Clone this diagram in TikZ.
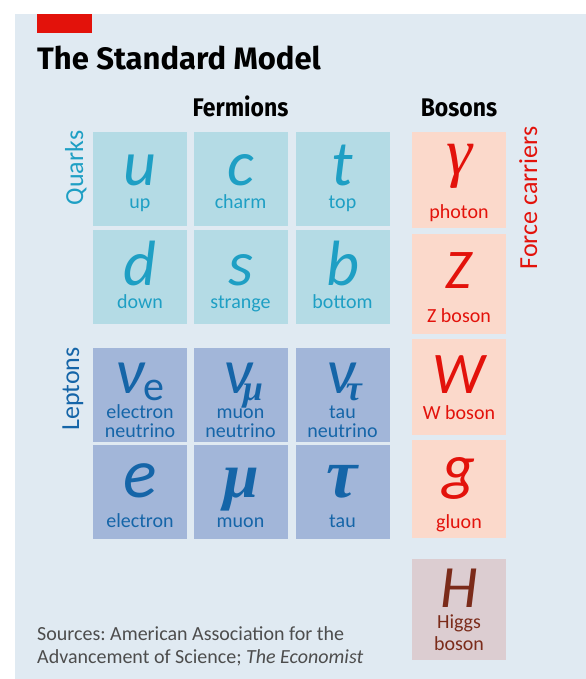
\documentclass[tikz,border=0pt]{standalone}
\usepackage{fontspec}
\setmainfont{Carlito}
\newfontfamily\carl{Carlito}
\newfontfamily\firaf{Fira Sans}
\newfontfamily\serf{Liberation Serif}
\definecolor{bgc}{HTML}{E0EAF2}
\definecolor{ecored}{HTML}{E3120B}
\definecolor{qfill}{HTML}{B4DBE5}
\definecolor{qtext}{HTML}{1E9FC4}
\definecolor{lfill}{HTML}{A2B6D9}
\definecolor{ltext}{HTML}{1565A8}
\definecolor{bfill}{HTML}{FBD9CB}
\definecolor{hfill}{HTML}{DCCDD1}
\definecolor{htext}{HTML}{7B2B1A}
\definecolor{srcgray}{HTML}{4D4D4D}
\newcommand{\fsz}[1]{\fontsize{#1bp}{#1bp}\selectfont}
\newcommand{\narrow}[1]{\scalebox{0.9}[1]{#1}}
\frenchspacing
\tikzset{
  tile/.style={draw=none, inner sep=0pt, minimum width=94bp},
  qtile/.style={tile, fill=qfill, minimum height=94bp},
  ltile/.style={tile, fill=lfill, minimum height=94bp},
  btile/.style={tile, fill=bfill},
  htile/.style={tile, fill=hfill},
  big/.style={anchor=base, inner sep=0pt, font=\carl\itshape\fsz{64}},
  bigser/.style={anchor=base, inner sep=0pt, font=\serf\bfseries\itshape\fsz{64}},
  lab/.style={anchor=base, inner sep=0pt, font=\carl\fsz{20}},
  side/.style={anchor=base, inner sep=0pt, rotate=90, font=\carl\fsz{26}},
  head/.style={anchor=base, inner sep=0pt, font=\firaf\bfseries\fsz{25.5}},
}
\begin{document}
\begin{tikzpicture}[x=1bp,y=-1bp]
\useasboundingbox (0,0) rectangle (586,679);
\fill[bgc] (15,14) rectangle (586,679);
\fill[ecored] (37,14) rectangle (92,33);
\node[anchor=base west, inner sep=0pt, font=\firaf\bfseries\fsz{31}] (title) at (37,70) {The Standard Model};
\node[head] (fermions) at (240.5,117) {\narrow{Fermions}};
\node[head] (bosons) at (459,117) {\narrow{Bosons}};
% side labels
\node[side, text=qtext] (quarks) at (83,168) {Quarks};
\node[side, text=ltext] (leptons) at (79,389) {Leptons};
\node[side, text=ecored] (force) at (537,198) {Force carriers};
% quarks
\node[qtile] (up) at (140,179) {};
\node[qtile] (charm) at (240.5,179) {};
\node[qtile] (top) at (342.5,179) {};
\node[qtile] (down) at (140,277) {};
\node[qtile] (strange) at (240.5,277) {};
\node[qtile] (bottom) at (342.5,277) {};
\begin{scope}[every node/.append style={text=qtext}]
\node[big] (uL) at (140,185) {u};
\node[big] (cL) at (240.5,185) {c};
\node[big] (tL) at (342.5,185) {t};
\node[lab] (uT) at (140,208) {up};
\node[lab] (cT) at (240.5,208) {charm};
\node[lab] (tT) at (342.5,208) {top};
\node[big] (dL) at (140,285) {d};
\node[big] (sL) at (240.5,285) {s};
\node[big] (bL) at (342.5,285) {b};
\node[lab] (dT) at (140,308) {down};
\node[lab] (sT) at (240.5,308) {strange};
\node[lab] (bT) at (342.5,308) {bottom};
\end{scope}
% leptons
\node[ltile] (nue) at (140,395) {};
\node[ltile] (numu) at (240.5,395) {};
\node[ltile] (nutau) at (342.5,395) {};
\node[ltile] (elec) at (140,492) {};
\node[ltile] (muon) at (240.5,492) {};
\node[ltile] (tau) at (342.5,492) {};
\begin{scope}[every node/.append style={text=ltext}]
\node[big] (nueL) at (140,393) {ν\raisebox{-7bp}{\upshape\fsz{42}e}};
\node[big] (numuL) at (243,393) {ν\kern-9bp\raisebox{-7bp}{\serf\bfseries\itshape\fsz{36}μ}};
\node[big] (nutauL) at (344,393) {ν\kern-9bp\raisebox{-7bp}{\serf\bfseries\itshape\fsz{36}τ}};
\node[lab] (nueT1) at (140,418) {electron};
\node[lab] (nueT2) at (140,437) {neutrino};
\node[lab] (numuT1) at (240.5,418) {muon};
\node[lab] (numuT2) at (240.5,437) {neutrino};
\node[lab] (nutauT1) at (342.5,418) {tau};
\node[lab] (nutauT2) at (342.5,437) {neutrino};
\node[big, font=\carl\itshape\fsz{70}] (eL) at (140,497) {e};
\node[bigser] (muL) at (241,497) {μ};
\node[bigser, font=\serf\bfseries\itshape\fsz{70}] (tauL) at (342,497) {τ};
\node[lab] (eT) at (140,527) {electron};
\node[lab] (muT) at (240.5,527) {muon};
\node[lab] (tauT) at (342.5,527) {tau};
\end{scope}
% bosons
\node[btile, minimum height=96bp] (photon) at (459,180) {};
\node[btile, minimum height=100bp] (zb) at (459,284) {};
\node[btile, minimum height=96bp] (wb) at (459,387) {};
\node[btile, minimum height=98bp] (gl) at (459,489) {};
\node[htile, minimum height=101bp] (higgs) at (459,609.5) {};
\begin{scope}[every node/.append style={text=ecored}]
\node[bigser, font=\serf\itshape\fsz{66}] (gammaL) at (459,174) {γ};
\node[lab] (gammaT) at (459,218) {photon};
\node[big, font=\carl\itshape\fsz{56}] (zL) at (459,288) {Z};
\node[lab] (zT) at (459,322) {Z boson};
\node[big, font=\carl\itshape\fsz{59}] (wL) at (459,393) {W};
\node[lab] (wT) at (459,419) {W boson};
\node[big] (gL) at (459,488) {g};
\node[lab] (gT) at (459,528) {gluon};
\end{scope}
\begin{scope}[every node/.append style={text=htext}]
\node[big, font=\carl\itshape\fsz{60}] (hL) at (459,607) {H};
\node[lab] (hT1) at (459,628) {Higgs};
\node[lab] (hT2) at (459,650) {boson};
\end{scope}
% sources
\node[anchor=base west, inner sep=0pt, text=srcgray, font=\carl\fsz{20}] (src1) at (37,640) {Sources: American Association for the};
\node[anchor=base west, inner sep=0pt, text=srcgray, font=\carl\fsz{20}] (src2) at (37,663) {Advancement of Science; \textit{The Economist}};
\end{tikzpicture}
\end{document}
